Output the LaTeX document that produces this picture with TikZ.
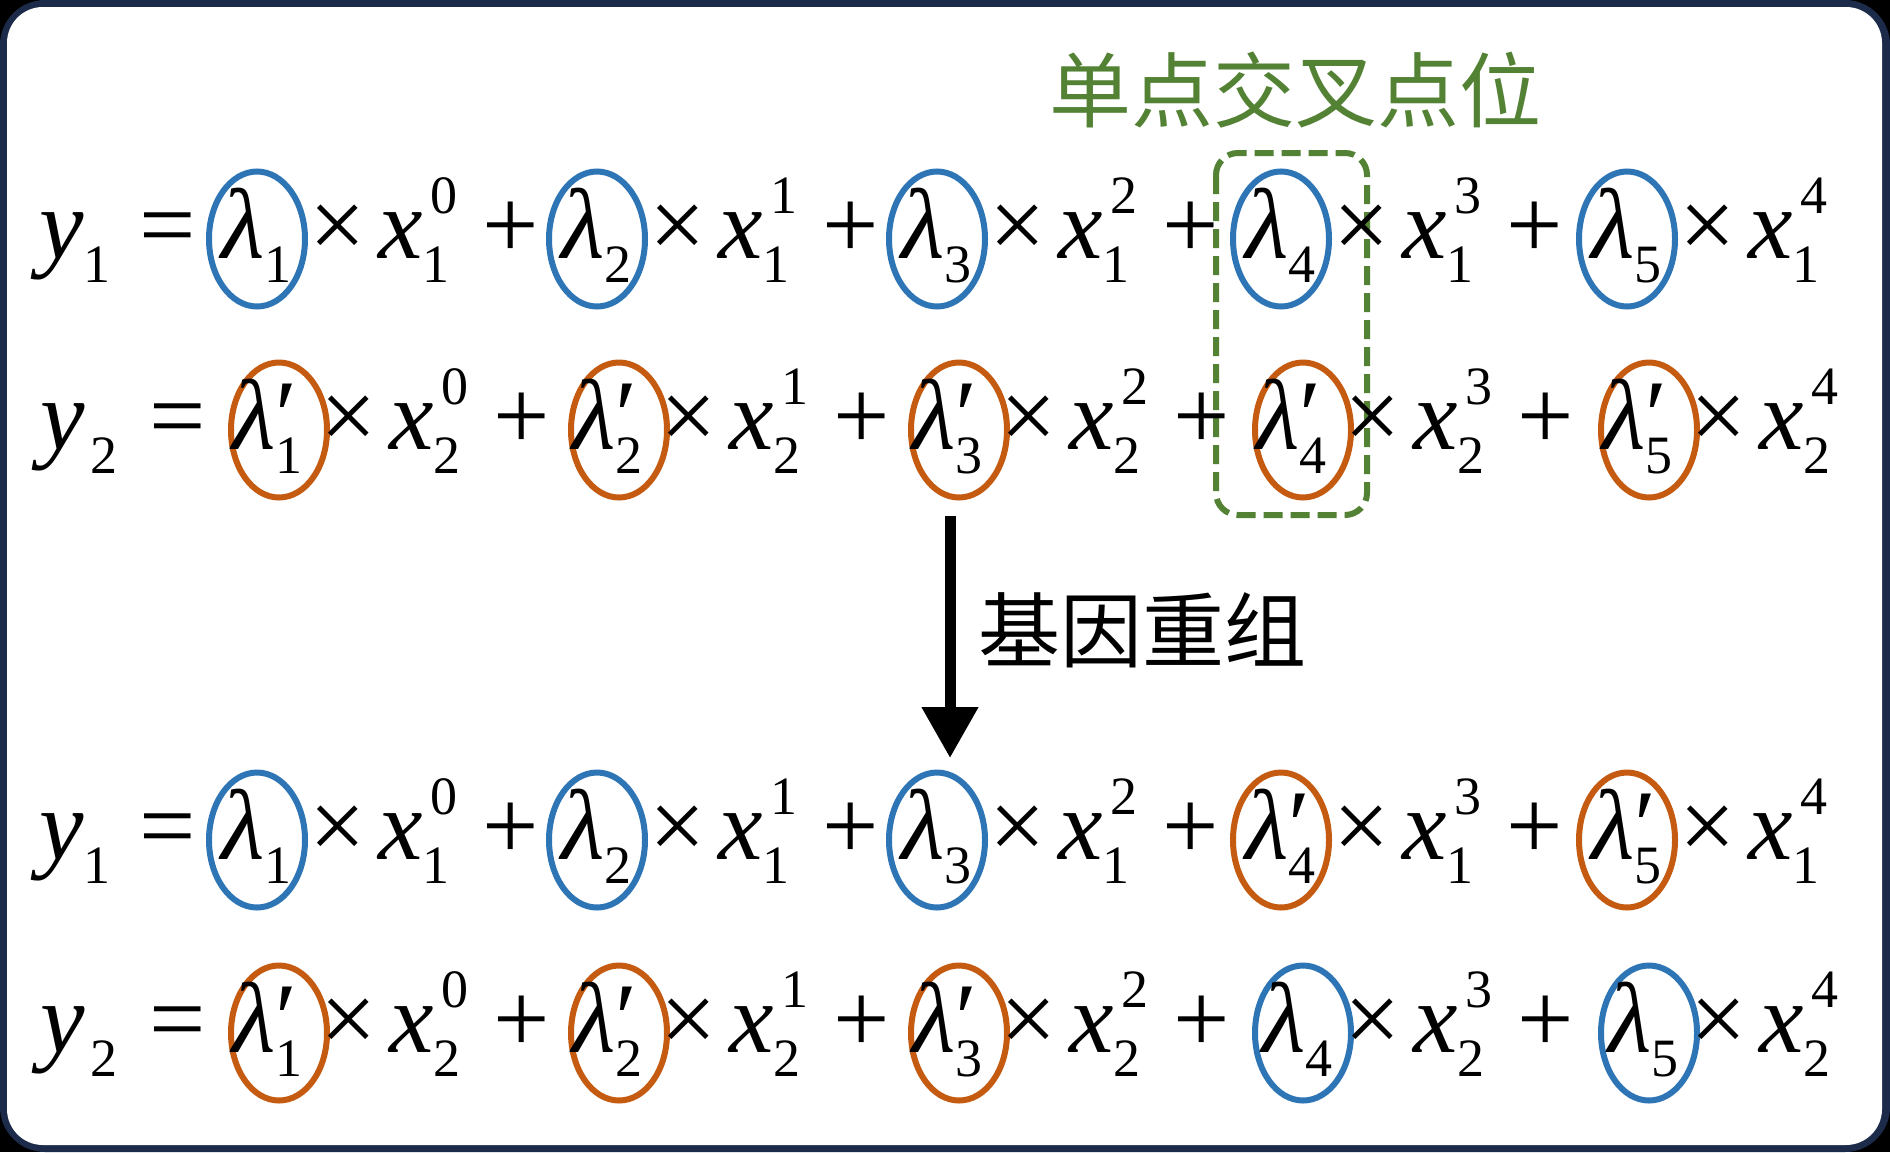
\documentclass[tikz,border=0pt]{standalone}
\usepackage{fontspec}
\setmainfont{Liberation Serif}
\newfontfamily\cjk{Noto Sans CJK SC}
\usetikzlibrary{shapes.geometric,arrows.meta}
\definecolor{navy}{HTML}{1C2B4A}
\definecolor{eblue}{HTML}{2E75B6}
\definecolor{eorange}{HTML}{C55A11}
\definecolor{egreen}{HTML}{548235}
\newcommand\mfs{\fontsize{50}{60}\selectfont}
\newcommand\sfs{\fontsize{27}{32}\selectfont}
\newcommand\Sb[1]{\raisebox{-12pt}{\sfs #1}}
\newcommand\Lm[1]{\textit{λ}\Sb{#1}}
\newcommand\Lp[1]{\textit{λ}\makebox[0pt][l]{′}\Sb{#1}}
\newcommand\Xv[2]{\textit{x}\makebox[0pt][l]{\hspace{4pt}\raisebox{22.5pt}{\sfs #2}}\Sb{#1}}
\begin{document}
\begin{tikzpicture}[x=0.5pt,y=-0.5pt,
  txt/.style={inner sep=0pt,font=\mfs},
  tw/.style={txt,anchor=base west},
  tc/.style={txt,anchor=base},
  ell/.style={ellipse,line width=3pt,minimum width=48pt,minimum height=67.5pt,inner sep=0pt},
  eb/.style={ell,draw=eblue},
  eo/.style={ell,draw=eorange},
  cjkt/.style={inner sep=0pt,font=\cjk\fontsize{41}{48}\selectfont}]
\useasboundingbox (0,0) rectangle (1890,1152);
\fill[black] (0,0) rectangle (1890,1152);
\fill[navy,rounded corners=22.5pt] (0,0) rectangle (1890,1152);
\fill[white,rounded corners=18pt] (7,7) rectangle (1882,1145);

% crossover box and title
\draw[egreen,line width=3pt,dash pattern=on 9.5pt off 4pt,rounded corners=11pt] (1216,153) rectangle (1367,515);
\node[cjkt,text=egreen] (title) at (1295,90) {单点交叉点位};

% ---------------- row 1 ----------------
\node[tw] (y1) at (39,258) {\textit{y}\Sb{1}};
\node[tc] (q1) at (168,258) {=};
\node[eb] (e11) at (257,239) {};
\node[tw] (l11) at (221,258) {\Lm{1}};
\node[tc] (m11) at (338,258) {×};
\node[tw] (x11) at (378,258) {\Xv{1}{0}};
\node[tc] (p11) at (511,258) {+};
\node[eb] (e12) at (597,239) {};
\node[tw] (l12) at (561,258) {\Lm{2}};
\node[tc] (m12) at (678,258) {×};
\node[tw] (x12) at (718,258) {\Xv{1}{1}};
\node[tc] (p12) at (851,258) {+};
\node[eb] (e13) at (937,239) {};
\node[tw] (l13) at (901,258) {\Lm{3}};
\node[tc] (m13) at (1018,258) {×};
\node[tw] (x13) at (1058,258) {\Xv{1}{2}};
\node[tc] (p13) at (1191,258) {+};
\node[eb] (e14) at (1281,239) {};
\node[tw] (l14) at (1245,258) {\Lm{4}};
\node[tc] (m14) at (1362,258) {×};
\node[tw] (x14) at (1402,258) {\Xv{1}{3}};
\node[tc] (p14) at (1535,258) {+};
\node[eb] (e15) at (1627,239) {};
\node[tw] (l15) at (1591,258) {\Lm{5}};
\node[tc] (m15) at (1708,258) {×};
\node[tw] (x15) at (1748,258) {\Xv{1}{4}};

% ---------------- row 2 ----------------
\node[tw] (y2) at (40,449) {\textit{y}\hspace{3pt}\Sb{2}};
\node[tc] (q2) at (178,449) {=};
\node[eo] (e21) at (279,430) {};
\node[tw] (l21) at (232,449) {\Lp{1}};
\node[tc] (m21) at (349,449) {×};
\node[tw] (x21) at (389,449) {\Xv{2}{0}};
\node[tc] (p21) at (522,449) {+};
\node[eo] (e22) at (619,430) {};
\node[tw] (l22) at (572,449) {\Lp{2}};
\node[tc] (m22) at (689,449) {×};
\node[tw] (x22) at (729,449) {\Xv{2}{1}};
\node[tc] (p22) at (862,449) {+};
\node[eo] (e23) at (959,430) {};
\node[tw] (l23) at (912,449) {\Lp{3}};
\node[tc] (m23) at (1029,449) {×};
\node[tw] (x23) at (1069,449) {\Xv{2}{2}};
\node[tc] (p23) at (1202,449) {+};
\node[eo] (e24) at (1303,430) {};
\node[tw] (l24) at (1256,449) {\Lp{4}};
\node[tc] (m24) at (1373,449) {×};
\node[tw] (x24) at (1413,449) {\Xv{2}{3}};
\node[tc] (p24) at (1546,449) {+};
\node[eo] (e25) at (1649,430) {};
\node[tw] (l25) at (1602,449) {\Lp{5}};
\node[tc] (m25) at (1719,449) {×};
\node[tw] (x25) at (1759,449) {\Xv{2}{4}};

% ---------------- arrow ----------------
\coordinate (a1) at (950,516);
\coordinate (a2) at (950,758);
\draw[line width=5.5pt,-{Triangle[length=25.5pt,width=27pt]}] (a1) -- (a2);
\node[cjkt] (rec) at (1142,630) {基因重组};

% ---------------- row 3 ----------------
\node[tw] (y3) at (39,859) {\textit{y}\Sb{1}};
\node[tc] (q3) at (168,859) {=};
\node[eb] (e31) at (257,840) {};
\node[tw] (l31) at (221,859) {\Lm{1}};
\node[tc] (m31) at (338,859) {×};
\node[tw] (x31) at (378,859) {\Xv{1}{0}};
\node[tc] (p31) at (511,859) {+};
\node[eb] (e32) at (597,840) {};
\node[tw] (l32) at (561,859) {\Lm{2}};
\node[tc] (m32) at (678,859) {×};
\node[tw] (x32) at (718,859) {\Xv{1}{1}};
\node[tc] (p32) at (851,859) {+};
\node[eb] (e33) at (937,840) {};
\node[tw] (l33) at (901,859) {\Lm{3}};
\node[tc] (m33) at (1018,859) {×};
\node[tw] (x33) at (1058,859) {\Xv{1}{2}};
\node[tc] (p33) at (1191,859) {+};
\node[eo] (e34) at (1281,840) {};
\node[tw] (l34) at (1245,859) {\Lp{4}};
\node[tc] (m34) at (1362,859) {×};
\node[tw] (x34) at (1402,859) {\Xv{1}{3}};
\node[tc] (p34) at (1535,859) {+};
\node[eo] (e35) at (1627,840) {};
\node[tw] (l35) at (1591,859) {\Lp{5}};
\node[tc] (m35) at (1708,859) {×};
\node[tw] (x35) at (1748,859) {\Xv{1}{4}};

% ---------------- row 4 ----------------
\node[tw] (y4) at (40,1052) {\textit{y}\hspace{3pt}\Sb{2}};
\node[tc] (q4) at (178,1052) {=};
\node[eo] (e41) at (279,1033) {};
\node[tw] (l41) at (232,1052) {\Lp{1}};
\node[tc] (m41) at (349,1052) {×};
\node[tw] (x41) at (389,1052) {\Xv{2}{0}};
\node[tc] (p41) at (522,1052) {+};
\node[eo] (e42) at (619,1033) {};
\node[tw] (l42) at (572,1052) {\Lp{2}};
\node[tc] (m42) at (689,1052) {×};
\node[tw] (x42) at (729,1052) {\Xv{2}{1}};
\node[tc] (p42) at (862,1052) {+};
\node[eo] (e43) at (959,1033) {};
\node[tw] (l43) at (912,1052) {\Lp{3}};
\node[tc] (m43) at (1029,1052) {×};
\node[tw] (x43) at (1069,1052) {\Xv{2}{2}};
\node[tc] (p43) at (1202,1052) {+};
\node[eb] (e44) at (1303,1033) {};
\node[tw] (l44) at (1262,1052) {\Lm{4}};
\node[tc] (m44) at (1373,1052) {×};
\node[tw] (x44) at (1413,1052) {\Xv{2}{3}};
\node[tc] (p44) at (1546,1052) {+};
\node[eb] (e45) at (1649,1033) {};
\node[tw] (l45) at (1608,1052) {\Lm{5}};
\node[tc] (m45) at (1719,1052) {×};
\node[tw] (x45) at (1759,1052) {\Xv{2}{4}};
\end{tikzpicture}
\end{document}
